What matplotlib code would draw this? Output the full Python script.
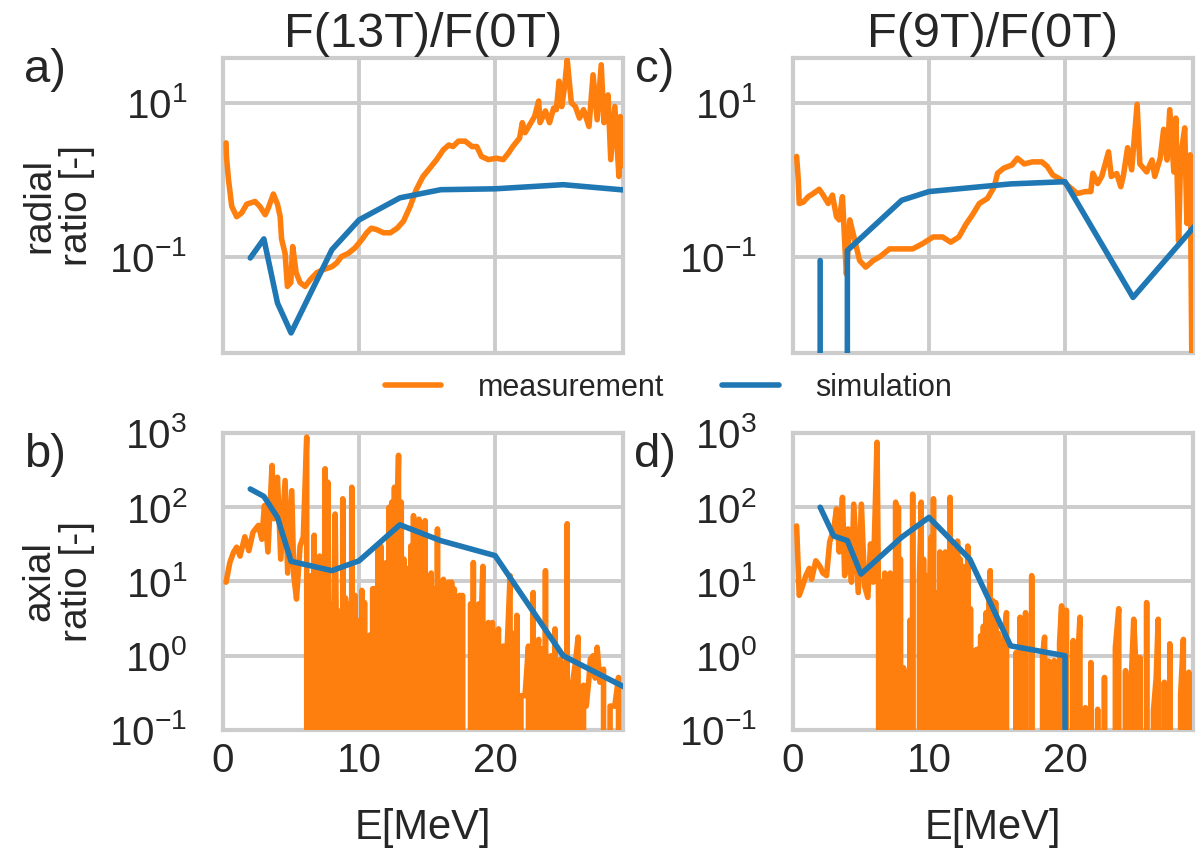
import matplotlib
matplotlib.use("Agg")
import matplotlib.pyplot as plt
from matplotlib.ticker import NullLocator
import seaborn as sns

# ---- data (energy in MeV, ratio) ----
# simulation points
sim_E = [2, 3, 4, 5, 8, 10, 13, 16, 20, 25, 30]
sim_radial_13T = [0.096, 0.17, 0.025, 0.0102, 0.123, 0.30, 0.58, 0.74, 0.76, 0.86, 0.72]
sim_axial_13T = [176, 140, 73, 18.7, 14, 19, 58, 35.5, 22.3, 1.0, 0.34]

sim9_E = [2, 3, 4, 8, 10, 16, 20, 25, 30]
sim_radial_9T = [0.089, 0, 0.12, 0.54, 0.70, 0.88, 0.94, 0.0295, 0.31]
sim9_axial_E = [2, 3, 4, 5, 8, 10, 13, 16, 20, 25, 30]
sim_axial_9T = [100, 41, 35.5, 12.6, 39.5, 73, 20, 1.36, 1.0, 0, 0]

# measurement (E, ratio) pairs
meas_radial_13T = [
    (0.22, 3.0), (0.25, 2.0), (0.4, 1.0), (0.64, 0.45), (1.0, 0.33), (1.37, 0.37),
    (1.74, 0.48), (2.35, 0.52), (2.7, 0.45), (3.1, 0.35), (3.33, 0.43), (3.7, 0.65),
    (4.0, 0.48), (4.2, 0.33), (4.3, 0.17), (4.56, 0.11), (4.73, 0.041), (4.98, 0.046),
    (5.12, 0.135), (5.37, 0.062), (5.66, 0.046), (6.03, 0.041), (6.4, 0.05), (6.9, 0.062),
    (7.4, 0.068), (8.0, 0.074), (8.36, 0.083), (8.7, 0.10), (9.2, 0.11), (9.7, 0.13),
    (10.2, 0.166), (10.56, 0.204), (10.9, 0.234), (11.3, 0.224), (11.8, 0.204), (12.3, 0.204),
    (12.8, 0.234), (13.26, 0.288), (13.75, 0.447), (14.2, 0.74), (14.7, 1.1), (15.2, 1.41),
    (15.7, 1.82), (16.2, 2.45), (16.6, 2.82), (16.9, 2.69), (17.3, 3.16), (17.8, 3.16),
    (18.3, 2.69), (18.65, 2.69), (19.0, 2.0), (19.5, 1.82), (20.1, 1.9), (20.6, 1.82),
    (21.0, 2.24), (21.3, 2.69), (21.8, 3.47), (22.0, 5.5), (22.2, 4.07), (22.7, 5.75),
    (22.9, 6.6), (23.2, 10.5), (23.3, 5.5), (23.7, 7.8), (24.0, 5.5), (24.3, 8.5),
    (24.5, 8.1), (24.7, 19), (24.9, 8.9), (25.1, 16), (25.3, 36), (25.6, 10),
    (25.9, 8.9), (26.2, 6.3), (26.5, 8.1), (26.9, 4.9), (27.2, 23), (27.5, 6.0),
    (27.8, 31), (28.0, 5.5), (28.3, 12.6), (28.5, 1.82), (28.8, 8.9), (29.1, 1.1),
    (29.2, 6.6), (29.3, 1.5),
]

meas_radial_9T = [
    (0.27, 2.0), (0.39, 1.0), (0.46, 0.49), (0.76, 0.51), (1.12, 0.60), (1.49, 0.66),
    (1.93, 0.75), (2.22, 0.63), (2.59, 0.49), (2.9, 0.63), (3.2, 0.33), (3.4, 0.30),
    (3.64, 0.60), (3.8, 0.16), (3.93, 0.059), (4.18, 0.30), (4.42, 0.20), (4.9, 0.089),
    (5.35, 0.073), (5.9, 0.089), (6.4, 0.10), (7.1, 0.126), (7.84, 0.126), (8.8, 0.126),
    (9.55, 0.148), (10.3, 0.18), (11.0, 0.18), (11.6, 0.154), (12.2, 0.18), (12.7, 0.26),
    (13.2, 0.35), (13.7, 0.49), (14.3, 0.57), (14.8, 0.81), (15.04, 1.21), (15.5, 1.41),
    (16.1, 1.55), (16.5, 1.9), (17.0, 1.6), (17.6, 1.7), (18.3, 1.7), (18.7, 1.48),
    (19.1, 1.15), (19.7, 1.0), (20.3, 0.81), (20.9, 0.66), (21.5, 0.70), (21.9, 0.70),
    (22.05, 1.21), (22.4, 0.89), (22.7, 1.1), (23.2, 2.3), (23.4, 1.1), (23.8, 1.2),
    (24.1, 0.81), (24.3, 1.15), (24.6, 2.6), (24.9, 1.34), (25.3, 9.5), (25.5, 1.6),
    (26.0, 1.26), (26.4, 1.8), (26.6, 1.1), (27.0, 1.9), (27.25, 4.5), (27.5, 1.8),
    (27.7, 8.1), (28.0, 1.26), (28.15, 6.3), (28.35, 0.16), (28.5, 2.0), (28.8, 4.7),
    (28.96, 0.27), (29.2, 2.1), (29.33, 0.003), (29.4, 0.002),
]

meas_axial_13T = [
    (0.22, 9.8), (0.5, 18), (0.76, 24.5), (1.0, 29), (1.25, 22), (1.6, 40), (1.9, 26),
    (2.2, 46), (2.6, 57), (2.85, 37), (3.04, 105), (3.3, 25), (3.6, 365), (3.75, 70),
    (4.0, 253), (4.24, 20), (4.56, 229), (4.75, 13), (5.05, 167), (5.2, 12), (5.4, 5.8),
    (5.66, 30), (5.9, 40), (6.15, 880), (6.4, 0),
    (6.5, 12), (6.6, 0), (6.7, 42), (6.8, 0), (6.9, 8), (7.0, 0), (7.1, 22), (7.2, 0),
    (7.3, 6), (7.4, 0), (7.5, 330), (7.6, 0), (7.7, 218), (7.8, 0), (7.9, 5), (8.0, 0),
    (8.1, 1.1), (8.24, 81), (8.36, 0.54), (8.5, 0), (8.6, 4), (8.7, 0), (8.8, 130), (8.9, 0),
    (9.0, 6), (9.1, 0), (9.2, 5), (9.3, 0), (9.46, 186), (9.55, 0), (9.7, 6.5), (9.8, 0),
    (9.9, 3), (10.0, 0), (10.2, 7.6), (10.3, 0), (10.4, 5.2), (10.5, 0), (10.6, 1.5), (10.7, 0),
    (10.8, 1.9), (10.9, 0), (11.0, 8), (11.1, 0), (11.2, 8), (11.3, 0), (11.4, 30), (11.5, 0),
    (11.6, 30), (11.7, 0), (11.8, 12), (11.9, 0), (12.0, 18), (12.1, 0), (12.2, 100), (12.3, 0),
    (12.4, 117), (12.5, 0), (12.6, 186), (12.7, 0), (12.8, 60), (12.9, 500), (13.0, 0),
    (13.1, 117), (13.2, 0), (13.3, 20), (13.4, 0), (13.5, 10), (13.6, 15), (13.7, 0),
    (13.8, 30), (13.9, 0), (14.0, 77), (14.1, 0), (14.2, 40), (14.3, 0), (14.4, 69), (14.5, 0),
    (14.6, 20), (14.7, 0), (14.85, 66), (14.95, 0), (15.1, 12), (15.2, 0), (15.3, 13), (15.4, 0),
    (15.5, 8), (15.6, 0), (15.76, 51), (15.85, 0), (16.0, 10), (16.1, 0), (16.2, 10.7), (16.3, 0),
    (16.4, 8), (16.5, 0), (16.6, 9.8), (16.7, 0), (16.8, 9.8), (16.9, 0), (17.0, 7.9), (17.1, 0),
    (17.2, 5), (17.3, 0), (17.4, 6.5), (17.5, 0), (17.6, 6.5), (17.7, 0),
    (17.9, 0), (18.1, 0), (18.2, 5), (18.3, 0), (18.4, 18), (18.5, 0), (18.6, 3), (18.7, 0),
    (18.8, 5), (18.9, 0), (19.0, 4), (19.1, 16), (19.2, 0), (19.3, 2), (19.4, 0), (19.5, 2.8),
    (19.6, 0), (19.8, 2.8), (19.9, 0), (20.1, 1.5), (20.25, 2.3), (20.4, 0), (20.6, 1.35),
    (20.7, 0), (20.9, 1.5), (21.1, 12), (21.2, 0), (21.35, 2), (21.45, 0), (21.6, 3.5),
    (21.7, 0), (21.9, 0.29), (22.2, 0.29), (22.45, 1.35), (22.6, 0), (22.8, 7.1), (22.9, 0),
    (23.05, 1.0), (23.2, 1.66), (23.3, 0), (23.4, 1.23), (23.55, 0), (23.7, 14), (23.9, 0),
    (24.1, 1.0), (24.2, 0), (24.4, 2.3), (24.5, 0), (24.66, 0), (24.8, 0.9), (25.0, 0.6),
    (25.1, 0), (25.3, 60), (25.45, 0), (25.7, 0.44), (25.9, 0.8), (26.1, 1.78), (26.25, 0),
    (26.5, 0.4), (26.7, 0.21), (26.9, 0.5), (27.0, 0.9), (27.2, 1.0), (27.35, 0.5), (27.5, 1.3),
    (27.7, 0.44), (27.97, 0.66), (28.2, 0), (28.45, 0.21), (28.8, 0.21), (29.07, 0.51),
    (29.26, 0),
]

meas_axial_9T = [
    (0.27, 56), (0.46, 6.5), (0.63, 7.9), (0.95, 12), (1.2, 15), (1.37, 10.7), (1.68, 19),
    (1.98, 16), (2.2, 13), (2.47, 12), (2.7, 34), (3.0, 51), (3.2, 95), (3.4, 25), (3.64, 136),
    (3.8, 12), (4.05, 51), (4.3, 9.8), (4.47, 110), (4.8, 7.1), (5.03, 110), (5.27, 8.7),
    (5.5, 6.1), (5.7, 32), (5.9, 9.8), (6.18, 750), (6.3, 3.8), (6.45, 0),
    (6.55, 10), (6.65, 0), (6.75, 13), (6.85, 0), (6.95, 8), (7.05, 0), (7.15, 13), (7.25, 0),
    (7.35, 9), (7.45, 0), (7.55, 117), (7.65, 0), (7.75, 100), (7.85, 0), (7.9, 20), (7.96, 0),
    (8.13, 0.69), (8.3, 0.40), (8.5, 0), (8.6, 3), (8.7, 0), (8.8, 150), (8.9, 0), (9.0, 0),
    (9.2, 0), (9.3, 12), (9.43, 117), (9.5, 0), (9.6, 20), (9.7, 0), (9.8, 12), (9.96, 0),
    (10.05, 8), (10.16, 40), (10.25, 0), (10.33, 130), (10.42, 0), (10.5, 7.1), (10.7, 0),
    (10.8, 25), (10.9, 0), (11.0, 20), (11.1, 0), (11.2, 25), (11.3, 0), (11.4, 15), (11.5, 0),
    (11.55, 136), (11.6, 0), (11.7, 27.5), (11.8, 0), (11.9, 18), (12.0, 0), (12.1, 35),
    (12.2, 0), (12.3, 20), (12.4, 0), (12.5, 16), (12.6, 0), (12.7, 12), (12.8, 0), (12.85, 30),
    (12.95, 0), (13.05, 4.3), (13.15, 0), (13.2, 1.1), (13.3, 0), (13.45, 1.2), (13.55, 0),
    (13.6, 1.23), (13.7, 0), (13.8, 1.86), (13.9, 0), (14.0, 2.5), (14.1, 0), (14.2, 3.8),
    (14.3, 0), (14.4, 5), (14.5, 14), (14.6, 0), (14.7, 5.5), (14.8, 0), (14.9, 5.2), (15.0, 0),
    (15.1, 2), (15.2, 1.1), (15.4, 0), (15.55, 2), (15.7, 3.8), (15.9, 0), (16.3, 0), (16.4, 1.1),
    (16.55, 0), (16.7, 3.3), (16.9, 0), (17.1, 3.8), (17.3, 0), (17.55, 12), (17.7, 0), (18.0, 0),
    (18.35, 1.0), (18.5, 1.78), (18.6, 0), (18.8, 0.85), (19.0, 0), (19.2, 0.86), (19.4, 0),
    (19.6, 1.5), (19.75, 4.7), (19.9, 0), (20.1, 4.1), (20.3, 0), (20.6, 1.6), (20.7, 0),
    (20.9, 0.7), (21.1, 3.3), (21.3, 0), (21.5, 0.20), (21.7, 0), (21.9, 0.81), (22.1, 0),
    (22.4, 0.19), (22.6, 0), (22.9, 0.51), (23.2, 0), (23.5, 0), (23.7, 1.29), (23.95, 4.3),
    (24.2, 0), (24.45, 0.63), (24.6, 0), (24.8, 0.23), (25.05, 3.1), (25.2, 0.8), (25.4, 0),
    (25.5, 0.95), (25.8, 0), (26.0, 5.2), (26.3, 0), (26.5, 0.18), (26.7, 0.5), (26.85, 3.1),
    (27.1, 0), (27.3, 0.44), (27.5, 0), (27.7, 1.45), (27.9, 0), (28.2, 0), (28.5, 0.3),
    (28.7, 1.66), (28.9, 0), (29.1, 0.60), (29.3, 0),
]

titles = ["F(13T)/F(0T)", "F(9T)/F(0T)"]
row_labels = ["radial\nratio [-]", "axial\nratio [-]"]
panel_tags = ["a)", "b)", "c)", "d)"]

ORANGE = "#ff7f0e"
BLUE = "#1f77b4"

sns.set_theme(style="whitegrid")
plt.rcParams['font.family'] = ['Liberation Sans', 'DejaVu Sans']
plt.rcParams.update({
    "axes.edgecolor": "#cccccc",
    "axes.linewidth": 3,
    "grid.color": "#cccccc",
    "grid.linewidth": 2.8,
    "xtick.labelsize": 29,
    "ytick.labelsize": 29,
    "xtick.major.size": 0,
    "ytick.major.size": 0,
    "xtick.major.pad": 9,
    "ytick.major.pad": 26,
})

fig = plt.figure(figsize=(11.96, 8.52), dpi=100)

W = 0.3344
pos = {
    "a": [0.1865, 0.5857, W, 0.3462],
    "b": [0.1865, 0.1432, W, 0.3486],
    "c": [0.6630, 0.5857, W, 0.3462],
    "d": [0.6630, 0.1432, W, 0.3486],
}
axes = {k: fig.add_axes(v) for k, v in pos.items()}


def unzip(pairs):
    return [p[0] for p in pairs], [p[1] for p in pairs]


lw = 4.0
E, v = unzip(meas_radial_13T)
axes["a"].plot(E, v, color=ORANGE, lw=lw, label="measurement")
axes["a"].plot(sim_E, sim_radial_13T, color=BLUE, lw=lw, label="simulation")

E, v = unzip(meas_axial_13T)
axes["b"].plot(E, v, color=ORANGE, lw=lw)
axes["b"].plot(sim_E, sim_axial_13T, color=BLUE, lw=lw)

E, v = unzip(meas_radial_9T)
axes["c"].plot(E, v, color=ORANGE, lw=lw)
axes["c"].plot(sim9_E, sim_radial_9T, color=BLUE, lw=lw)

E, v = unzip(meas_axial_9T)
axes["d"].plot(E, v, color=ORANGE, lw=lw)
axes["d"].plot(sim9_axial_E, sim_axial_9T, color=BLUE, lw=lw)

for k, ax in axes.items():
    ax.set_yscale("log")
    ax.set_xlim(0, 29.4)
    ax.set_xticks([0, 10, 20])
    for s in ax.spines.values():
        s.set_zorder(0)
    if k in ("a", "c"):
        ax.set_ylim(0.0056, 38)
        ax.set_yticks([0.1, 10])
        ax.tick_params(labelbottom=False)
    else:
        ax.set_ylim(0.1, 1000)
        ax.set_yticks([0.1, 1, 10, 100, 1000])
        ax.set_xlabel("E[MeV]", fontsize=30, labelpad=20)
    ax.yaxis.set_minor_locator(NullLocator())

axes["a"].set_title(titles[0], fontsize=35, pad=8)
axes["c"].set_title(titles[1], fontsize=35, pad=8)

fig.text(58 / 1196, 0.7588, row_labels[0], rotation=90, fontsize=28,
         ha="center", va="center", multialignment="center", color="#262626",
         linespacing=1.05)
fig.text(58 / 1196, 0.3175, row_labels[1], rotation=90, fontsize=28,
         ha="center", va="center", multialignment="center", color="#262626",
         linespacing=1.05)

tag_xy = [(45, 70), (45, 455), (655, 70), (655, 455)]
for tag, (x, y) in zip(panel_tags, tag_xy):
    fig.text(x / 1196, 1 - y / 852, tag, fontsize=34, ha="center", va="center",
             color="#262626")

fig.legend(loc="center", bbox_to_anchor=(0.559, 0.5446), ncol=2, frameon=False,
           fontsize=22, handlelength=1.85, handletextpad=1.2, columnspacing=1.9)

fig.savefig("out.png", dpi=100)
